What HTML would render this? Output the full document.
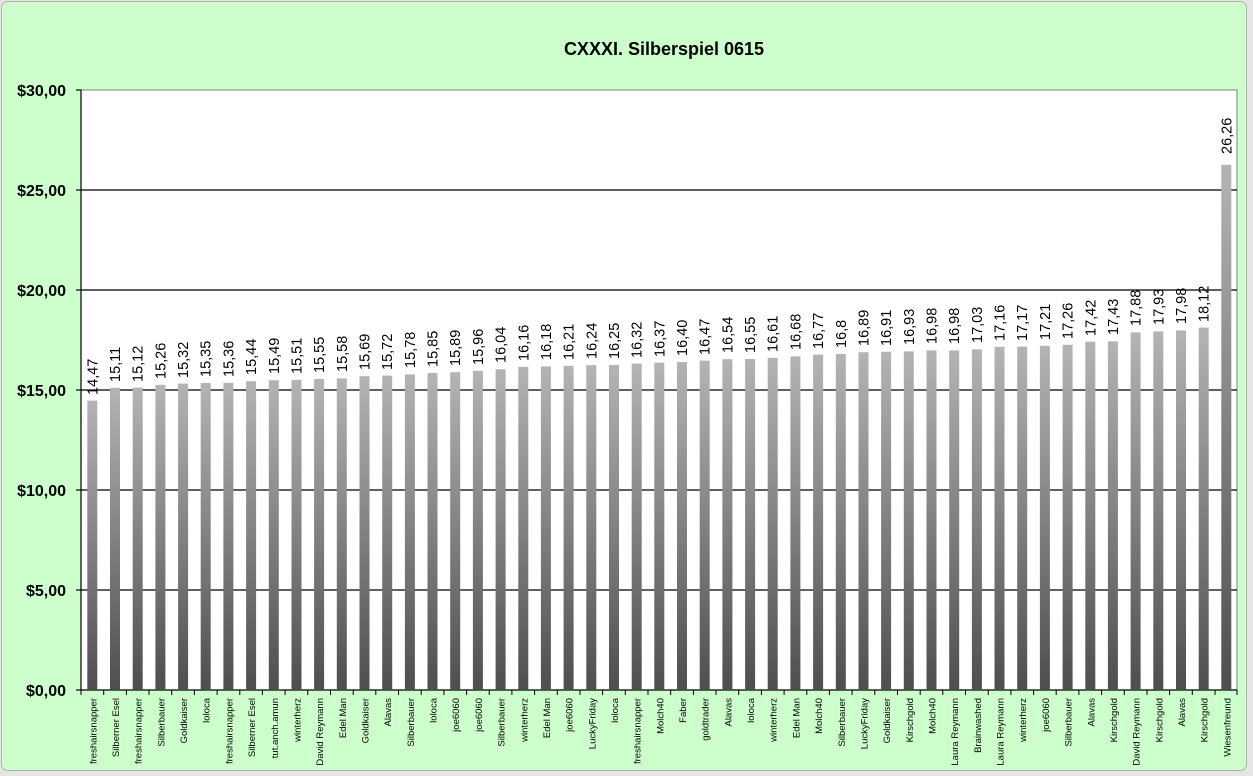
<!DOCTYPE html>
<html><head><meta charset="utf-8"><style>
html,body{margin:0;padding:0;background:#e8e8e8;}
svg{display:block;font-family:"Liberation Sans",Arial,sans-serif;}
.v{font-size:14.5px;fill:#000;}
.c{font-size:9.5px;fill:#000;text-anchor:end;}
.y{font-size:16px;font-weight:bold;text-anchor:end;}
</style></head><body>
<svg width="1253" height="776" viewBox="0 0 1253 776" xmlns="http://www.w3.org/2000/svg">
<defs>
<linearGradient id="g" x1="0" y1="0" x2="0" y2="1"><stop offset="0" stop-color="#b4b4b4"/><stop offset="1" stop-color="#4e4e4e"/></linearGradient>
</defs>
<rect x="0" y="0" width="1253" height="776" fill="#e6e6e6"/>
<rect x="1.5" y="1.5" width="1245" height="769" rx="6" fill="#ccffcc" stroke="#b0b0b0"/>
<text x="664" y="55" font-size="18" font-weight="bold" text-anchor="middle">CXXXI. Silberspiel 0615</text>
<rect x="81" y="90" width="1156" height="600" fill="#fff" stroke="#808080"/>
<g stroke="#000" stroke-width="1.2">
<line x1="81" y1="190" x2="1237" y2="190"/><line x1="81" y1="290" x2="1237" y2="290"/><line x1="81" y1="390" x2="1237" y2="390"/><line x1="81" y1="490" x2="1237" y2="490"/><line x1="81" y1="590" x2="1237" y2="590"/><line x1="81" y1="690" x2="1237" y2="690"/>
<line x1="81" y1="90" x2="81" y2="690"/>
<line x1="76" y1="90" x2="81" y2="90"/><line x1="76" y1="190" x2="81" y2="190"/><line x1="76" y1="290" x2="81" y2="290"/><line x1="76" y1="390" x2="81" y2="390"/><line x1="76" y1="490" x2="81" y2="490"/><line x1="76" y1="590" x2="81" y2="590"/><line x1="76" y1="690" x2="81" y2="690"/>
</g>
<g class="y">
<text x="66" y="96">$30,00</text><text x="66" y="196">$25,00</text><text x="66" y="296">$20,00</text><text x="66" y="396">$15,00</text><text x="66" y="496">$10,00</text><text x="66" y="596">$5,00</text><text x="66" y="696">$0,00</text>
</g>
<g id="bars">
<g transform="translate(92.3,0)"><rect x="-5" y="400.6" width="10" height="289.4" fill="url(#g)"/><text class="v" transform="translate(5,395) rotate(-90)">14,47</text><text class="c" transform="translate(4,698) rotate(-90)">freshairsnapper</text></g>
<g transform="translate(115.0,0)"><rect x="-5" y="387.8" width="10" height="302.2" fill="url(#g)"/><text class="v" transform="translate(5,382) rotate(-90)">15,11</text><text class="c" transform="translate(4,698) rotate(-90)">Silberner Esel</text></g>
<g transform="translate(137.7,0)"><rect x="-5" y="387.6" width="10" height="302.4" fill="url(#g)"/><text class="v" transform="translate(5,382) rotate(-90)">15,12</text><text class="c" transform="translate(4,698) rotate(-90)">freshairsnapper</text></g>
<g transform="translate(160.4,0)"><rect x="-5" y="384.8" width="10" height="305.2" fill="url(#g)"/><text class="v" transform="translate(5,379) rotate(-90)">15,26</text><text class="c" transform="translate(4,698) rotate(-90)">Silberbauer</text></g>
<g transform="translate(183.1,0)"><rect x="-5" y="383.6" width="10" height="306.4" fill="url(#g)"/><text class="v" transform="translate(5,378) rotate(-90)">15,32</text><text class="c" transform="translate(4,698) rotate(-90)">Goldkaiser</text></g>
<g transform="translate(205.7,0)"><rect x="-5" y="383.0" width="10" height="307.0" fill="url(#g)"/><text class="v" transform="translate(5,377) rotate(-90)">15,35</text><text class="c" transform="translate(4,698) rotate(-90)">loloca</text></g>
<g transform="translate(228.4,0)"><rect x="-5" y="382.8" width="10" height="307.2" fill="url(#g)"/><text class="v" transform="translate(5,377) rotate(-90)">15,36</text><text class="c" transform="translate(4,698) rotate(-90)">freshairsnapper</text></g>
<g transform="translate(251.1,0)"><rect x="-5" y="381.2" width="10" height="308.8" fill="url(#g)"/><text class="v" transform="translate(5,375) rotate(-90)">15,44</text><text class="c" transform="translate(4,698) rotate(-90)">Silberner Esel</text></g>
<g transform="translate(273.8,0)"><rect x="-5" y="380.2" width="10" height="309.8" fill="url(#g)"/><text class="v" transform="translate(5,374) rotate(-90)">15,49</text><text class="c" transform="translate(4,698) rotate(-90)">tut.anch.amun</text></g>
<g transform="translate(296.5,0)"><rect x="-5" y="379.8" width="10" height="310.2" fill="url(#g)"/><text class="v" transform="translate(5,374) rotate(-90)">15,51</text><text class="c" transform="translate(4,698) rotate(-90)">winterherz</text></g>
<g transform="translate(319.1,0)"><rect x="-5" y="379.0" width="10" height="311.0" fill="url(#g)"/><text class="v" transform="translate(5,373) rotate(-90)">15,55</text><text class="c" transform="translate(4,698) rotate(-90)">David Reymann</text></g>
<g transform="translate(341.8,0)"><rect x="-5" y="378.4" width="10" height="311.6" fill="url(#g)"/><text class="v" transform="translate(5,372) rotate(-90)">15,58</text><text class="c" transform="translate(4,698) rotate(-90)">Edel Man</text></g>
<g transform="translate(364.5,0)"><rect x="-5" y="376.2" width="10" height="313.8" fill="url(#g)"/><text class="v" transform="translate(5,370) rotate(-90)">15,69</text><text class="c" transform="translate(4,698) rotate(-90)">Goldkaiser</text></g>
<g transform="translate(387.2,0)"><rect x="-5" y="375.6" width="10" height="314.4" fill="url(#g)"/><text class="v" transform="translate(5,370) rotate(-90)">15,72</text><text class="c" transform="translate(4,698) rotate(-90)">Alavas</text></g>
<g transform="translate(409.9,0)"><rect x="-5" y="374.4" width="10" height="315.6" fill="url(#g)"/><text class="v" transform="translate(5,368) rotate(-90)">15,78</text><text class="c" transform="translate(4,698) rotate(-90)">Silberbauer</text></g>
<g transform="translate(432.5,0)"><rect x="-5" y="373.0" width="10" height="317.0" fill="url(#g)"/><text class="v" transform="translate(5,367) rotate(-90)">15,85</text><text class="c" transform="translate(4,698) rotate(-90)">loloca</text></g>
<g transform="translate(455.2,0)"><rect x="-5" y="372.2" width="10" height="317.8" fill="url(#g)"/><text class="v" transform="translate(5,366) rotate(-90)">15,89</text><text class="c" transform="translate(4,698) rotate(-90)">joe6060</text></g>
<g transform="translate(477.9,0)"><rect x="-5" y="370.8" width="10" height="319.2" fill="url(#g)"/><text class="v" transform="translate(5,365) rotate(-90)">15,96</text><text class="c" transform="translate(4,698) rotate(-90)">joe6060</text></g>
<g transform="translate(500.6,0)"><rect x="-5" y="369.2" width="10" height="320.8" fill="url(#g)"/><text class="v" transform="translate(5,363) rotate(-90)">16,04</text><text class="c" transform="translate(4,698) rotate(-90)">Silberbauer</text></g>
<g transform="translate(523.3,0)"><rect x="-5" y="366.8" width="10" height="323.2" fill="url(#g)"/><text class="v" transform="translate(5,361) rotate(-90)">16,16</text><text class="c" transform="translate(4,698) rotate(-90)">winterherz</text></g>
<g transform="translate(545.9,0)"><rect x="-5" y="366.4" width="10" height="323.6" fill="url(#g)"/><text class="v" transform="translate(5,360) rotate(-90)">16,18</text><text class="c" transform="translate(4,698) rotate(-90)">Edel Man</text></g>
<g transform="translate(568.6,0)"><rect x="-5" y="365.8" width="10" height="324.2" fill="url(#g)"/><text class="v" transform="translate(5,360) rotate(-90)">16,21</text><text class="c" transform="translate(4,698) rotate(-90)">joe6060</text></g>
<g transform="translate(591.3,0)"><rect x="-5" y="365.2" width="10" height="324.8" fill="url(#g)"/><text class="v" transform="translate(5,359) rotate(-90)">16,24</text><text class="c" transform="translate(4,698) rotate(-90)">LuckyFriday</text></g>
<g transform="translate(614.0,0)"><rect x="-5" y="365.0" width="10" height="325.0" fill="url(#g)"/><text class="v" transform="translate(5,359) rotate(-90)">16,25</text><text class="c" transform="translate(4,698) rotate(-90)">loloca</text></g>
<g transform="translate(636.7,0)"><rect x="-5" y="363.6" width="10" height="326.4" fill="url(#g)"/><text class="v" transform="translate(5,358) rotate(-90)">16,32</text><text class="c" transform="translate(4,698) rotate(-90)">freshairsnapper</text></g>
<g transform="translate(659.3,0)"><rect x="-5" y="362.6" width="10" height="327.4" fill="url(#g)"/><text class="v" transform="translate(5,357) rotate(-90)">16,37</text><text class="c" transform="translate(4,698) rotate(-90)">Molch40</text></g>
<g transform="translate(682.0,0)"><rect x="-5" y="362.0" width="10" height="328.0" fill="url(#g)"/><text class="v" transform="translate(5,356) rotate(-90)">16,40</text><text class="c" transform="translate(4,698) rotate(-90)">Faber</text></g>
<g transform="translate(704.7,0)"><rect x="-5" y="360.6" width="10" height="329.4" fill="url(#g)"/><text class="v" transform="translate(5,355) rotate(-90)">16,47</text><text class="c" transform="translate(4,698) rotate(-90)">goldtrader</text></g>
<g transform="translate(727.4,0)"><rect x="-5" y="359.2" width="10" height="330.8" fill="url(#g)"/><text class="v" transform="translate(5,353) rotate(-90)">16,54</text><text class="c" transform="translate(4,698) rotate(-90)">Alavas</text></g>
<g transform="translate(750.1,0)"><rect x="-5" y="359.0" width="10" height="331.0" fill="url(#g)"/><text class="v" transform="translate(5,353) rotate(-90)">16,55</text><text class="c" transform="translate(4,698) rotate(-90)">loloca</text></g>
<g transform="translate(772.7,0)"><rect x="-5" y="357.8" width="10" height="332.2" fill="url(#g)"/><text class="v" transform="translate(5,352) rotate(-90)">16,61</text><text class="c" transform="translate(4,698) rotate(-90)">winterherz</text></g>
<g transform="translate(795.4,0)"><rect x="-5" y="356.4" width="10" height="333.6" fill="url(#g)"/><text class="v" transform="translate(5,350) rotate(-90)">16,68</text><text class="c" transform="translate(4,698) rotate(-90)">Edel Man</text></g>
<g transform="translate(818.1,0)"><rect x="-5" y="354.6" width="10" height="335.4" fill="url(#g)"/><text class="v" transform="translate(5,349) rotate(-90)">16,77</text><text class="c" transform="translate(4,698) rotate(-90)">Molch40</text></g>
<g transform="translate(840.8,0)"><rect x="-5" y="354.0" width="10" height="336.0" fill="url(#g)"/><text class="v" transform="translate(5,348) rotate(-90)">16,8</text><text class="c" transform="translate(4,698) rotate(-90)">Silberbauer</text></g>
<g transform="translate(863.5,0)"><rect x="-5" y="352.2" width="10" height="337.8" fill="url(#g)"/><text class="v" transform="translate(5,346) rotate(-90)">16,89</text><text class="c" transform="translate(4,698) rotate(-90)">LuckyFriday</text></g>
<g transform="translate(886.1,0)"><rect x="-5" y="351.8" width="10" height="338.2" fill="url(#g)"/><text class="v" transform="translate(5,346) rotate(-90)">16,91</text><text class="c" transform="translate(4,698) rotate(-90)">Goldkaiser</text></g>
<g transform="translate(908.8,0)"><rect x="-5" y="351.4" width="10" height="338.6" fill="url(#g)"/><text class="v" transform="translate(5,345) rotate(-90)">16,93</text><text class="c" transform="translate(4,698) rotate(-90)">Kirschgold</text></g>
<g transform="translate(931.5,0)"><rect x="-5" y="350.4" width="10" height="339.6" fill="url(#g)"/><text class="v" transform="translate(5,344) rotate(-90)">16,98</text><text class="c" transform="translate(4,698) rotate(-90)">Molch40</text></g>
<g transform="translate(954.2,0)"><rect x="-5" y="350.4" width="10" height="339.6" fill="url(#g)"/><text class="v" transform="translate(5,344) rotate(-90)">16,98</text><text class="c" transform="translate(4,698) rotate(-90)">Laura Reymann</text></g>
<g transform="translate(976.9,0)"><rect x="-5" y="349.4" width="10" height="340.6" fill="url(#g)"/><text class="v" transform="translate(5,343) rotate(-90)">17,03</text><text class="c" transform="translate(4,698) rotate(-90)">Brainwashed</text></g>
<g transform="translate(999.5,0)"><rect x="-5" y="346.8" width="10" height="343.2" fill="url(#g)"/><text class="v" transform="translate(5,341) rotate(-90)">17,16</text><text class="c" transform="translate(4,698) rotate(-90)">Laura Reymann</text></g>
<g transform="translate(1022.2,0)"><rect x="-5" y="346.6" width="10" height="343.4" fill="url(#g)"/><text class="v" transform="translate(5,341) rotate(-90)">17,17</text><text class="c" transform="translate(4,698) rotate(-90)">winterherz</text></g>
<g transform="translate(1044.9,0)"><rect x="-5" y="345.8" width="10" height="344.2" fill="url(#g)"/><text class="v" transform="translate(5,340) rotate(-90)">17,21</text><text class="c" transform="translate(4,698) rotate(-90)">joe6060</text></g>
<g transform="translate(1067.6,0)"><rect x="-5" y="344.8" width="10" height="345.2" fill="url(#g)"/><text class="v" transform="translate(5,339) rotate(-90)">17,26</text><text class="c" transform="translate(4,698) rotate(-90)">Silberbauer</text></g>
<g transform="translate(1090.3,0)"><rect x="-5" y="341.6" width="10" height="348.4" fill="url(#g)"/><text class="v" transform="translate(5,336) rotate(-90)">17,42</text><text class="c" transform="translate(4,698) rotate(-90)">Alavas</text></g>
<g transform="translate(1112.9,0)"><rect x="-5" y="341.4" width="10" height="348.6" fill="url(#g)"/><text class="v" transform="translate(5,335) rotate(-90)">17,43</text><text class="c" transform="translate(4,698) rotate(-90)">Kirschgold</text></g>
<g transform="translate(1135.6,0)"><rect x="-5" y="332.4" width="10" height="357.6" fill="url(#g)"/><text class="v" transform="translate(5,326) rotate(-90)">17,88</text><text class="c" transform="translate(4,698) rotate(-90)">David Reymann</text></g>
<g transform="translate(1158.3,0)"><rect x="-5" y="331.4" width="10" height="358.6" fill="url(#g)"/><text class="v" transform="translate(5,325) rotate(-90)">17,93</text><text class="c" transform="translate(4,698) rotate(-90)">Kirschgold</text></g>
<g transform="translate(1181.0,0)"><rect x="-5" y="330.4" width="10" height="359.6" fill="url(#g)"/><text class="v" transform="translate(5,324) rotate(-90)">17,98</text><text class="c" transform="translate(4,698) rotate(-90)">Alavas</text></g>
<g transform="translate(1203.7,0)"><rect x="-5" y="327.6" width="10" height="362.4" fill="url(#g)"/><text class="v" transform="translate(5,322) rotate(-90)">18,12</text><text class="c" transform="translate(4,698) rotate(-90)">Kirschgold</text></g>
<g transform="translate(1226.3,0)"><rect x="-5" y="164.8" width="10" height="525.2" fill="url(#g)"/><text class="v" transform="translate(5,154) rotate(-90)">26,26</text><text class="c" transform="translate(4,698) rotate(-90)">Wiesenfreund</text></g>
</g>
<path stroke="#000" stroke-width="1" d="M81 690v5M103.7 690v5M126.4 690v5M149 690v5M171.7 690v5M194.4 690v5M217.1 690v5M239.8 690v5M262.4 690v5M285.1 690v5M307.8 690v5M330.5 690v5M353.2 690v5M375.8 690v5M398.5 690v5M421.2 690v5M443.9 690v5M466.6 690v5M489.2 690v5M511.9 690v5M534.6 690v5M557.3 690v5M580 690v5M602.6 690v5M625.3 690v5M648 690v5M670.7 690v5M693.4 690v5M716 690v5M738.7 690v5M761.4 690v5M784.1 690v5M806.8 690v5M829.4 690v5M852.1 690v5M874.8 690v5M897.5 690v5M920.2 690v5M942.8 690v5M965.5 690v5M988.2 690v5M1010.9 690v5M1033.6 690v5M1056.2 690v5M1078.9 690v5M1101.6 690v5M1124.3 690v5M1147 690v5M1169.6 690v5M1192.3 690v5M1215 690v5M1237 690v5"/>
</svg>
</body></html>
